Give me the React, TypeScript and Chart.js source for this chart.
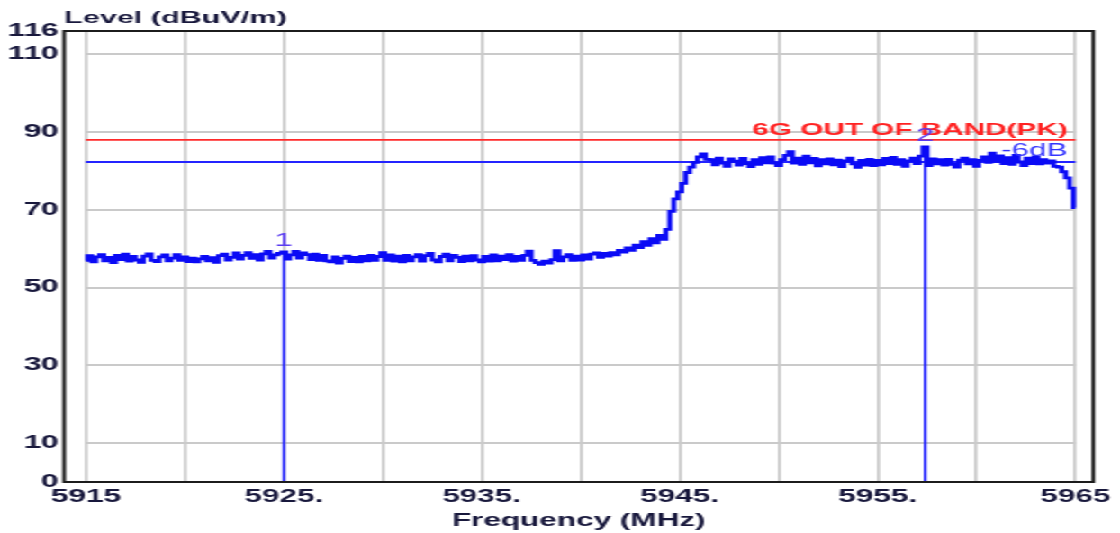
import React, { useEffect, useRef } from 'react';
import { Chart, registerables } from 'chart.js';

Chart.register(...registerables);

// ---- data ----
const START_MHZ = 5915;
const STEP_MHZ = 0.2;

// 5915.0 .. 5940.8 MHz
const LEVELS_LOW = [
  57.0, 58.2, 56.6, 57.9, 58.5, 56.9, 57.8, 56.4, 58.3, 57.2, 58.6, 56.8, 58.0, 57.1, 56.5, 58.1, 58.7, 57.0, 56.7, 57.9, 58.4, 56.9, 57.6, 58.5, 57.0,
  57.9, 56.7, 57.6, 56.6, 57.4, 58.0, 56.9, 57.7, 56.5, 58.2, 58.6, 57.1, 57.8, 58.9, 57.3, 58.3, 59.0, 57.5, 58.5, 57.1, 58.7, 59.3, 57.6, 58.4, 58.8,
  59.2, 57.3, 58.4, 59.3, 57.6, 58.9, 58.5, 57.2, 58.6, 57.0, 58.3, 56.9, 56.6, 57.9, 56.3, 57.5, 58.1, 56.7, 57.8, 56.6, 58.0, 56.9, 58.3, 57.0, 58.0,
  59.0, 57.0, 58.4, 56.8, 58.1, 56.6, 58.3, 56.9, 57.9, 58.5, 56.8, 58.2, 58.8, 57.1, 56.6, 58.0, 58.6, 56.9, 58.3, 57.8, 56.7, 58.1, 56.9, 58.2, 57.1,
  56.6, 58.0, 56.8, 58.4, 56.9, 58.1, 57.2, 58.5, 56.8, 58.0, 57.0, 58.3, 59.4, 57.0, 56.4, 56.0, 56.8, 56.3, 57.2, 59.5, 56.9, 57.9, 58.5, 57.0, 58.1,
  57.1, 58.4, 57.3, 58.6, 58.9,
];
// 5941.0 .. 5946.4 MHz
const LEVELS_RISE = [
  57.8, 58.8, 58.1, 59.0, 58.4, 59.6, 59.1, 60.2, 59.6, 60.9, 60.3, 61.8, 60.9, 62.6,
  61.5, 63.4, 62.4, 65.0, 69.6, 72.8, 74.6, 76.8, 79.6, 81.0, 82.2, 83.6, 84.4, 83.0,
];
// 5946.6 .. 5963.4 MHz
const LEVELS_HIGH = [
  82.9, 81.6, 83.3, 82.0, 81.2, 83.1, 82.5, 81.5, 83.2, 81.9,
  81.1, 82.9, 81.7, 83.4, 82.1, 83.6, 82.0, 81.4, 82.9, 84.0,
  85.0, 82.0, 83.3, 81.7, 83.8, 82.1, 83.2, 81.3, 82.9, 81.8,
  83.1, 81.6, 82.8, 81.1, 82.6, 83.3, 81.8, 80.9, 82.7, 81.5,
  83.0, 81.4, 82.7, 81.6, 83.2, 81.9, 83.5, 81.7, 82.9, 81.2,
  82.6, 83.3, 81.9, 83.8, 86.2, 81.4, 83.1, 81.8, 82.9, 81.5,
  83.0, 81.7, 81.0, 82.8, 83.3, 81.8, 82.9, 81.2, 82.7, 83.6,
  82.2, 84.6, 82.5, 83.9, 81.9, 83.4, 81.7, 84.0, 82.3, 81.4,
  83.3, 81.9, 83.6, 81.8, 82.9,
];
// 5963.6 .. 5965.0 MHz
const LEVELS_EDGE = [82.0, 82.6, 81.2, 81.0, 79.8, 78.2, 75.6, 70.6];

const X_TICK_VALUES = [5915, 5920, 5925, 5930, 5935, 5940, 5945, 5950, 5955, 5960, 5965];
const X_TICK_LABELS = ['5915', '', '5925.', '', '5935.', '', '5945.', '', '5955.', '', '5965'];
const Y_TICK_VALUES = [0, 10, 30, 50, 70, 90, 110, 116];
const Y_GRID_VALUES = [10, 30, 50, 70, 90, 110];

const LIMIT_LEVEL = 88;
const LIMIT_LABEL = '6G OUT OF BAND(PK)';
const REF_LEVEL = 82.3;
const REF_LABEL = '-6dB';
const MARKER_NAMES = ['1', '2'];
const MARKER_FREQS = [5925.0, 5957.4];
const MARKER_LEVELS = [59.2, 86.2];

const X_TITLE = 'Frequency (MHz)';
const Y_TITLE = 'Level (dBuV/m)';

// ---- styling ----
const CANVAS_W = 622;
const CANVAS_H = 533;
const STRETCH = 1120 / CANVAS_W;
const FONT = '"Liberation Sans", Arial, sans-serif';
const TEXT = '#18183c';
const GRID = '#cacaca';
const TRACE = '#0a0af5';

const LEVELS = [...LEVELS_LOW, ...LEVELS_RISE, ...LEVELS_HIGH, ...LEVELS_EDGE];

const overlay = {
  id: 'overlay',
  beforeDatasetsDraw(chart: any) {
    const { ctx, scales } = chart;
    const x = scales.x;
    const y = scales.y;
    const xl = x.getPixelForValue(X_TICK_VALUES[0]);
    const xr = x.getPixelForValue(X_TICK_VALUES[X_TICK_VALUES.length - 1]);
    ctx.save();
    ctx.strokeStyle = GRID;
    ctx.lineWidth = 2;
    for (const v of Y_GRID_VALUES) {
      const py = Math.round(y.getPixelForValue(v));
      ctx.beginPath();
      ctx.moveTo(xl, py);
      ctx.lineTo(xr, py);
      ctx.stroke();
    }
    ctx.restore();
  },
  afterDatasetsDraw(chart: any) {
    const { ctx, scales, chartArea } = chart;
    const x = scales.x;
    const y = scales.y;
    ctx.save();
    // frame
    ctx.strokeStyle = '#1c1c1c';
    ctx.lineWidth = 2;
    ctx.strokeRect(chartArea.left, chartArea.top, chartArea.right - chartArea.left, chartArea.bottom - chartArea.top);

    // titles
    ctx.fillStyle = TEXT;
    ctx.textBaseline = 'alphabetic';
    ctx.font = `bold 17px ${FONT}`;
    ctx.textAlign = 'left';
    ctx.fillText(Y_TITLE, chartArea.left, 23);
    ctx.font = `bold 17.5px ${FONT}`;
    ctx.textAlign = 'center';
    ctx.fillText(X_TITLE, (chartArea.left + chartArea.right) / 2, 526);

    // limit label
    ctx.fillStyle = '#ff2222';
    ctx.font = `bold 16.5px ${FONT}`;
    ctx.textAlign = 'right';
    ctx.fillText(LIMIT_LABEL, x.getPixelForValue(5964.6), y.getPixelForValue(LIMIT_LEVEL) - 5);

    // -6dB label
    ctx.fillStyle = '#3434ff';
    ctx.font = `17.5px ${FONT}`;
    ctx.fillText(REF_LABEL, x.getPixelForValue(5964.6), y.getPixelForValue(REF_LEVEL) - 6.5);

    // marker labels
    ctx.fillStyle = '#5a3cf0';
    ctx.font = `18px ${FONT}`;
    ctx.textAlign = 'center';
    MARKER_NAMES.forEach((n, i) => {
      ctx.fillText(n, x.getPixelForValue(MARKER_FREQS[i]), y.getPixelForValue(MARKER_LEVELS[i]) - 6);
    });
    ctx.restore();
  },
};

export default function App() {
  const ref = useRef<HTMLCanvasElement | null>(null);

  useEffect(() => {
    const canvas = ref.current;
    if (!canvas) return;
    Chart.defaults.font.family = FONT;

    const trace = LEVELS.map((v, i) => ({ x: START_MHZ + i * STEP_MHZ, y: v }));
    const xFirst = X_TICK_VALUES[0];
    const xLast = X_TICK_VALUES[X_TICK_VALUES.length - 1];

    const datasets: any[] = [
      {
        label: 'trace',
        data: trace,
        borderColor: TRACE,
        borderWidth: 2.8,
        stepped: 'middle',
        pointRadius: 0,
      },
      ...MARKER_FREQS.map((f, i) => ({
        label: 'marker ' + MARKER_NAMES[i],
        data: [
          { x: f, y: 0 },
          { x: f, y: MARKER_LEVELS[i] },
        ],
        borderColor: '#1e1eff',
        borderWidth: 1.5,
        pointRadius: 0,
      })),
      {
        label: 'ref',
        data: [
          { x: xFirst, y: REF_LEVEL },
          { x: xLast, y: REF_LEVEL },
        ],
        borderColor: '#2424ff',
        borderWidth: 1.8,
        pointRadius: 0,
      },
      {
        label: 'limit',
        data: [
          { x: xFirst, y: LIMIT_LEVEL },
          { x: xLast, y: LIMIT_LEVEL },
        ],
        borderColor: '#ff2a2a',
        borderWidth: 1.8,
        pointRadius: 0,
      },
    ];

    const chart = new Chart(canvas, {
      type: 'line',
      data: { datasets },
      plugins: [overlay],
      options: {
        animation: false,
        responsive: false,
        devicePixelRatio: 1,
        layout: { padding: { top: 31, right: 13.7, left: 0, bottom: 0 } },
        plugins: { legend: { display: false }, tooltip: { enabled: false } },
        scales: {
          x: {
            type: 'linear',
            min: 5913.9,
            max: 5965.9,
            afterBuildTicks: (s: any) => {
              s.ticks = X_TICK_VALUES.map((v) => ({ value: v }));
            },
            afterFit: (s: any) => {
              s.height = 51;
            },
            border: { display: false },
            grid: { color: GRID, lineWidth: 1.7, drawTicks: false },
            ticks: {
              autoSkip: false,
              maxRotation: 0,
              minRotation: 0,
              padding: 5,
              color: TEXT,
              font: { size: 17.5, weight: 'bold' },
              callback: (v: any) => {
                const idx = X_TICK_VALUES.indexOf(Number(v));
                return idx >= 0 ? X_TICK_LABELS[idx] : '';
              },
            },
          },
          y: {
            type: 'linear',
            min: 0,
            max: 116,
            afterBuildTicks: (s: any) => {
              s.ticks = Y_TICK_VALUES.map((v) => ({ value: v }));
            },
            afterFit: (s: any) => {
              s.width = 35.6;
            },
            border: { display: false },
            grid: { display: false, drawTicks: false },
            ticks: {
              autoSkip: false,
              padding: 3,
              color: TEXT,
              font: { size: 17.5, weight: 'bold' },
              callback: (v: any) => String(v),
            },
          },
        },
      } as any,
    });
    return () => chart.destroy();
  }, []);

  return (
    <div
      style={{
        position: 'fixed',
        left: 0,
        top: 0,
        width: CANVAS_W,
        height: CANVAS_H,
        transform: `scaleX(${STRETCH})`,
        transformOrigin: '0 0',
        background: '#ffffff',
      }}
    >
      <canvas
        ref={ref}
        width={CANVAS_W}
        height={CANVAS_H}
        style={{ width: CANVAS_W + 'px', height: CANVAS_H + 'px', display: 'block' }}
      />
    </div>
  );
}
